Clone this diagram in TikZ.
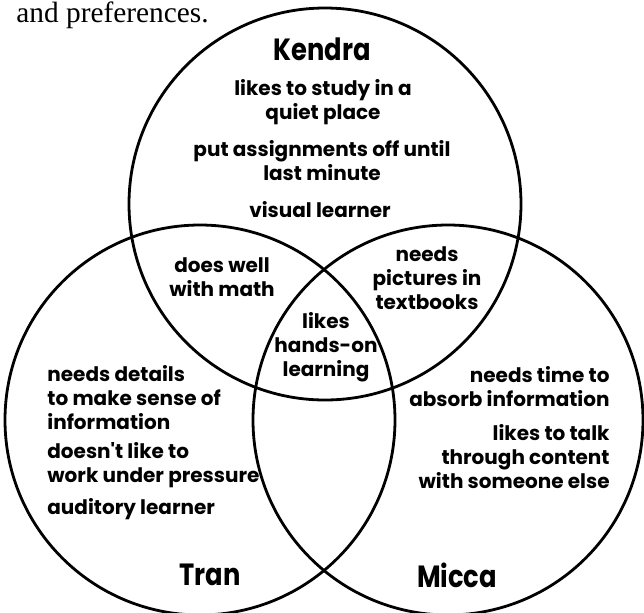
\documentclass[tikz,border=0pt]{standalone}
\usepackage{fontspec}
\setmainfont{Liberation Serif}
\newfontfamily\vennfont{Poppins}
\newfontfamily\vennnamefont[FakeStretch=0.84]{Poppins}

\tikzset{every picture/.style={line width=2.1pt}}
\tikzset{
  venntext/.style={font={\vennfont\bfseries\fontsize{15}{18}\selectfont},inner sep=0.75pt},
  vennname/.style={font={\vennnamefont\bfseries\fontsize{23}{28}\selectfont},inner sep=0.75pt},
}

\begin{document}
\begin{tikzpicture}[x=0.75pt,y=0.75pt,yscale=-1,xscale=1]
\useasboundingbox (0,0) rectangle (644,612);

%Shape: Circle
\draw  (325,204) circle (196) ;
%Shape: Circle
\draw  (200,420) circle (195) ;
%Shape: Circle
\draw  (448,420) circle (195) ;

% Text Node
\draw (14,22) node [anchor=base west][inner sep=0.75pt] (intro) {\fontsize{22}{24}\selectfont and preferences.};
% Text Node
\draw (322,49) node [vennname] (kendra) {Kendra};
% Text Node
\draw (210,575) node [vennname] (tran) {Tran};
% Text Node
\draw (457,575) node [vennname] (micca) {Micca};

% Text Node
\draw (323,102) node [venntext,align=center] (quiet) {likes to study in a\\quiet place};
% Text Node
\draw (322,161) node [venntext,align=center] (assign) {put assignments off until\\last minute};
% Text Node
\draw (320,210) node [venntext,align=center] (visual) {visual learner};
% Text Node
\draw (222,277) node [venntext,align=center] (math) {does well\\with math};
% Text Node
\draw (427,278) node [venntext,align=center] (pictures) {needs\\pictures in\\textbooks};
% Text Node
\draw (326,347) node [venntext,align=center] (handson) {likes\\hands-on\\learning};
% Text Node
\draw (45,398) node [venntext,align=left,anchor=west] (details) {needs details\\to make sense of\\information};
% Text Node
\draw (45,465) node [venntext,align=left,anchor=west] (pressure) {doesn't like to\\work under pressure};
% Text Node
\draw (45,509) node [venntext,align=left,anchor=west] (auditory) {auditory learner};
% Text Node
\draw (612,387) node [venntext,align=right,anchor=east] (absorb) {needs time to\\absorb information};
% Text Node
\draw (612,457) node [venntext,align=right,anchor=east] (talk) {likes to talk\\through content\\with someone else};

\end{tikzpicture}
\end{document}
